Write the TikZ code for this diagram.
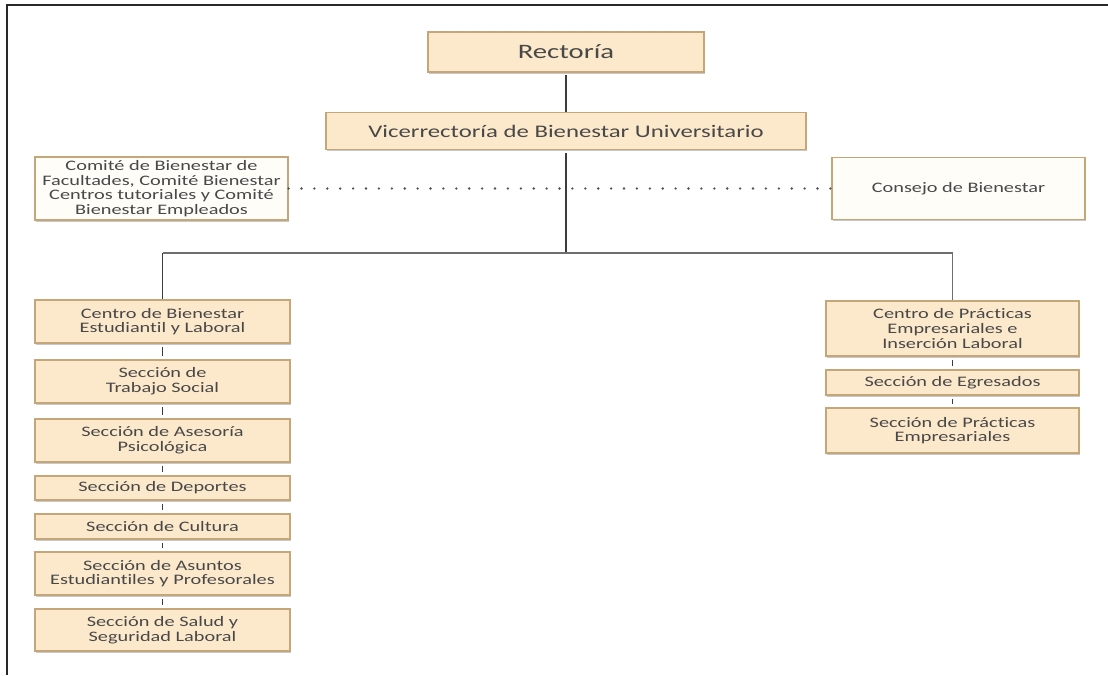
\documentclass[tikz,border=0pt]{standalone}
\usepackage{fontspec}
\setmainfont{Carlito}[FakeStretch=1.4, Ligatures=NoCommon]
\usetikzlibrary{shadows}
\definecolor{boxfill}{RGB}{252,233,203}
\definecolor{lightfill}{RGB}{255,253,248}
\definecolor{boxline}{RGB}{196,166,120}
\definecolor{txt}{RGB}{72,72,72}
\definecolor{conn}{RGB}{60,60,60}
\definecolor{busc}{RGB}{110,110,110}
\definecolor{framec}{RGB}{40,40,40}
\tikzset{
  orgbox/.style={draw=boxline, line width=1.2pt, fill=boxfill, text=txt, align=center,
    inner sep=0pt, drop shadow={shadow xshift=1.3pt, shadow yshift=-1.6pt, opacity=0.3, fill=black!70},
    font=\fontsize{14.5}{14.6}\selectfont},
  whitebox/.style={orgbox, fill=lightfill},
  lcol/.style={orgbox, minimum width=255pt},
  rcol/.style={orgbox, minimum width=253pt},
  link/.style={draw=conn, line width=1.4pt},
  chain/.style={link, shorten >=3pt, shorten <=3pt},
  busline/.style={draw=busc, line width=1.8pt},
  dots/.style={draw=conn!90, line width=2.6pt, line cap=round, dash pattern=on 0pt off 12.9pt},
  frameline/.style={draw=framec, line width=2pt}
}
\begin{document}
\begin{tikzpicture}[x=1pt, y=-1pt]
\useasboundingbox (0,0) rectangle (1108,675);
\fill[white] (0,0) rectangle (1108,675);
% frame
\coordinate (fa) at (7,675);
\coordinate (fb) at (7,5);
\coordinate (fc) at (1108,5);
\draw[frameline] (fa) -- (fb) -- (fc);

% top
\node[orgbox, minimum width=276pt, minimum height=40pt, font=\fontsize{20.5}{22}\selectfont] (rect) at (566,52) {Rectoría};
\node[orgbox, minimum width=480pt, minimum height=37pt, font=\fontsize{17.7}{19}\selectfont] (vice) at (566,131) {Vicerrectoría de Bienestar Universitario};
\node[whitebox, minimum width=253pt, minimum height=63pt] (comite) at (161.5,188.5) {Comité de Bienestar de\\Facultades, Comité Bienestar\\Centros tutoriales y Comité\\Bienestar Empleados};
\node[whitebox, minimum width=253pt, minimum height=62pt] (consejo) at (958.5,188.5) {Consejo de Bienestar};

% left column
\node[lcol, minimum height=43pt] (l1) at (162.5,321.5) {Centro de Bienestar\\Estudiantil y Laboral};
\node[lcol, minimum height=43pt] (l2) at (162.5,381.5) {Sección de\\Trabajo Social};
\node[lcol, minimum height=43pt] (l3) at (162.5,440.5) {Sección de Asesoría\\Psicológica};
\node[lcol, minimum height=24pt] (l4) at (162.5,488) {Sección de Deportes};
\node[lcol, minimum height=25pt] (l5) at (162.5,526.5) {Sección de Cultura};
\node[lcol, minimum height=43pt] (l6) at (162.5,573.5) {Sección de Asuntos\\Estudiantiles y Profesorales};
\node[lcol, minimum height=42pt] (l7) at (162.5,630) {Sección de Salud y\\Seguridad Laboral};

% right column
\node[rcol, minimum height=55pt] (r1) at (952.5,328.5) {Centro de Prácticas\\Empresariales e\\Inserción Laboral};
\node[rcol, minimum height=25pt] (r2) at (952.5,382.5) {Sección de Egresados};
\node[rcol, minimum height=45pt] (r3) at (952.5,430.5) {Sección de Prácticas\\Empresariales};

% connectors
\coordinate (busm) at (566,253);
\coordinate (busl) at (162.5,253);
\coordinate (busr) at (952.5,253);
\draw[link, shorten <=2pt] (rect.south) -- (vice.north);
\draw[link, shorten <=3pt] (vice.south) -- (busm);
\draw[busline] (busl) -- (busr);
\draw[link] (busl) -- (l1.north);
\draw[busline] (busr) -- (r1.north);
\draw[dots] (comite.east) -- (consejo.west);

\draw[chain] (l1.south) -- (l2.north);
\draw[chain] (l2.south) -- (l3.north);
\draw[chain] (l3.south) -- (l4.north);
\draw[chain] (l4.south) -- (l5.north);
\draw[chain] (l5.south) -- (l6.north);
\draw[chain] (l6.south) -- (l7.north);
\draw[chain] (r1.south) -- (r2.north);
\draw[chain] (r2.south) -- (r3.north);
\end{tikzpicture}
\end{document}
